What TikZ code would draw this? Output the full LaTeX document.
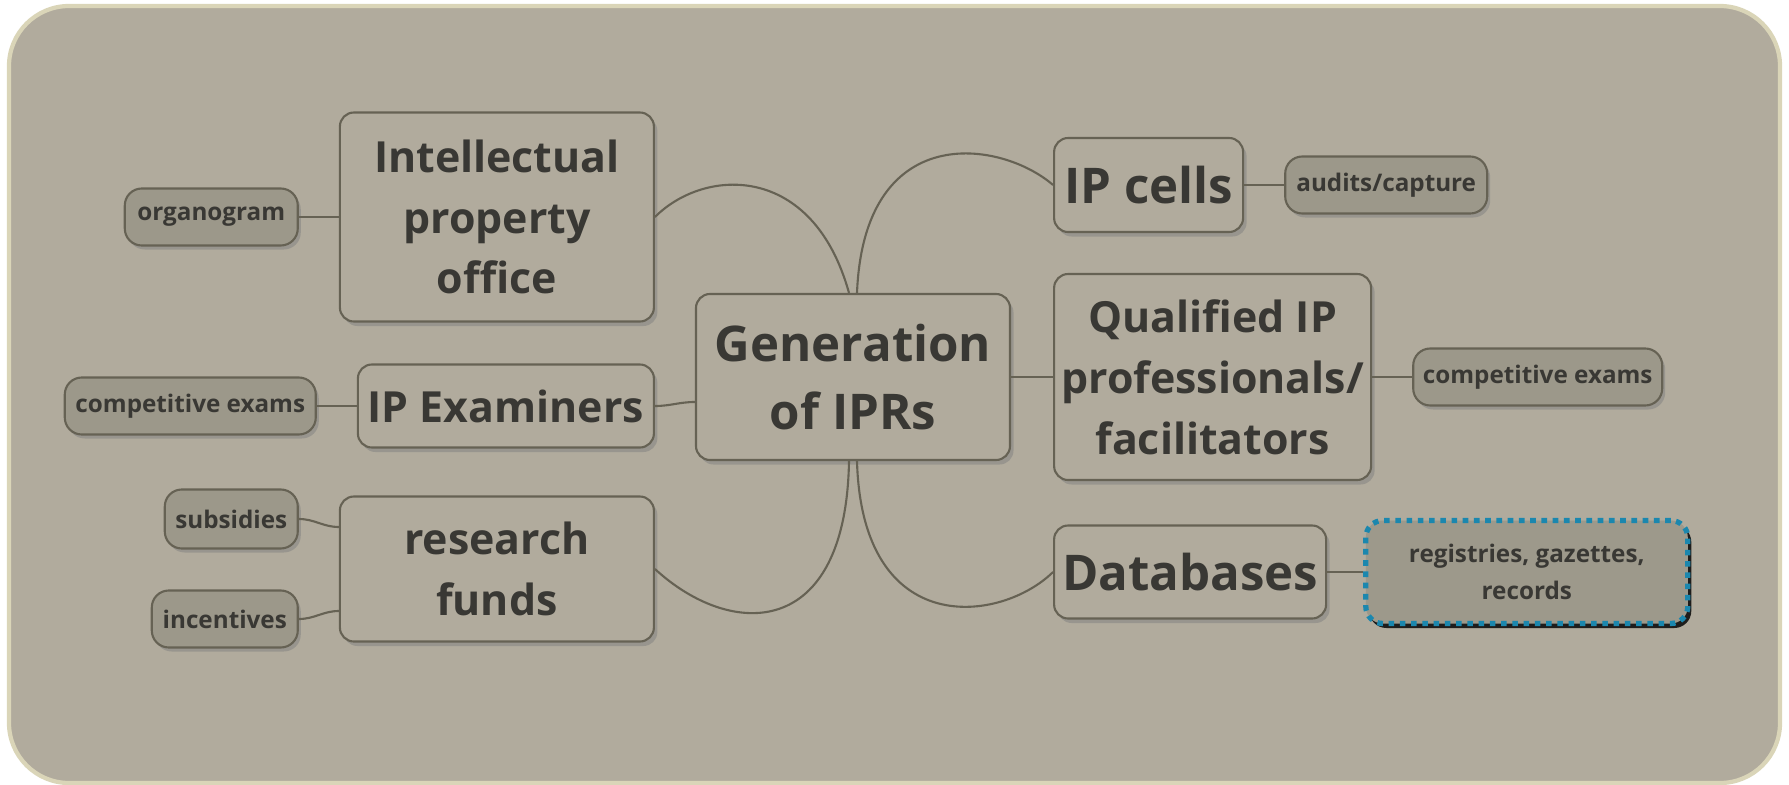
\documentclass[tikz,border=0pt]{standalone}
\usepackage{fontspec}
\setmainfont{Open Sans}
\usetikzlibrary{positioning,shadows}

\definecolor{mapbg}{HTML}{B1AB9D}
\definecolor{mapedge}{HTML}{DAD5B8}
\definecolor{boxline}{HTML}{666254}
\definecolor{leaffill}{HTML}{9C988A}
\definecolor{inktext}{HTML}{393834}
\definecolor{selblue}{HTML}{1B87AE}

\begin{document}
\begin{tikzpicture}[
    topic/.style={rectangle, rounded corners=0.14cm, draw=boxline, line width=0.6pt,
      fill=mapbg, text=inktext, align=center, inner sep=0pt,
      font=\bfseries\fontsize{12.2}{17.3}\selectfont,
      drop shadow={opacity=0.5, shadow xshift=0.035cm, shadow yshift=-0.045cm}},
    topicbig/.style={topic, font=\bfseries\fontsize{14}{19.3}\selectfont},
    leaf/.style={rectangle, rounded corners=0.17cm, draw=boxline, line width=0.6pt,
      fill=leaffill, text=inktext, align=center, inner sep=0pt, minimum height=0.57cm,
      font=\bfseries\fontsize{6.9}{10.4}\selectfont,
      drop shadow={opacity=0.5, shadow xshift=0.03cm, shadow yshift=-0.04cm}},
    selected/.style={draw=selblue, line width=1.5pt, dash pattern=on 1.6pt off 1.6pt,
      fill=leaffill!95!mapbg,
      drop shadow={opacity=0.8, fill=black, shadow xshift=0.035cm, shadow yshift=-0.045cm}},
    branch/.style={draw=boxline, line width=0.6pt}]

  \useasboundingbox (0,0) rectangle (17.89,-7.85);

  % background
  \draw[mapedge, line width=1.2pt, fill=mapbg, rounded corners=0.6cm]
    (0.09,-0.06) rectangle (17.80,-7.83);

  % Define nodes
  \node[topicbig, minimum width=3.14cm, minimum height=1.66cm] (gen) at (8.53,-3.77) {Generation\\of IPRs};

  \node[topic, minimum width=3.14cm, minimum height=2.09cm, left=0.40cm of gen, yshift=1.60cm] (ipo) {Intellectual\\property\\office};
  \node[topic, minimum width=2.96cm, minimum height=0.83cm, left=0.40cm of gen, yshift=-0.29cm] (exam) {IP Examiners};
  \node[topic, minimum width=3.14cm, minimum height=1.45cm, left=0.40cm of gen, yshift=-1.92cm] (funds) {research\\funds};

  \node[topicbig, minimum width=1.89cm, minimum height=0.94cm, right=0.42cm of gen, yshift=1.92cm] (cells) {IP cells};
  \node[topic, minimum width=3.17cm, minimum height=2.06cm, right=0.42cm of gen] (qual) {Qualified IP\\professionals/\\facilitators};
  \node[topicbig, minimum width=2.72cm, minimum height=0.93cm, right=0.42cm of gen, yshift=-1.95cm] (db) {Databases};

  \node[leaf, minimum width=1.73cm, left=0.40cm of ipo] (organogram) {organogram};
  \node[leaf, minimum width=2.51cm, left=0.40cm of exam] (examsL) {competitive exams};
  \node[leaf, minimum width=1.33cm, minimum height=0.59cm, left=0.40cm of funds, yshift=0.50cm] (subsidies) {subsidies};
  \node[leaf, minimum width=1.46cm, left=0.40cm of funds, yshift=-0.50cm] (incentives) {incentives};

  \node[leaf, minimum width=2.02cm, right=0.40cm of cells] (audits) {audits/capture};
  \node[leaf, minimum width=2.49cm, right=0.40cm of qual] (examsR) {competitive exams};
  \node[leaf, selected, minimum width=3.22cm, minimum height=1.03cm, right=0.36cm of db] (records) {registries, gazettes,\\records};

  % branches
  \draw[branch] ([xshift=-0.04cm]gen.north) .. controls +(-0.36,1.3) and +(0.5,0.5) .. (ipo.east);
  \draw[branch] ([yshift=-0.25cm]gen.west) to[out=180, in=0] (exam.east);
  \draw[branch] ([xshift=-0.04cm]gen.south) .. controls +(-0.03,-1.8) and +(0.76,-0.7) .. (funds.east);
  \draw[branch] ([xshift=0.04cm]gen.north) .. controls +(0.07,1.74) and +(-0.52,0.45) .. (cells.west);
  \draw[branch] (gen.east) -- (qual.west);
  \draw[branch] ([xshift=0.04cm]gen.south) .. controls +(0.05,-1.8) and +(-0.52,-0.51) .. (db.west);

  \draw[branch] (ipo.west) -- (organogram.east);
  \draw[branch] (exam.west) -- (examsL.east);
  \draw[branch] (subsidies.east) to[out=0, in=180] ([yshift=0.42cm]funds.west);
  \draw[branch] (incentives.east) to[out=0, in=180] ([yshift=-0.42cm]funds.west);
  \draw[branch] (cells.east) -- (audits.west);
  \draw[branch] (qual.east) -- (examsR.west);
  \draw[branch] (db.east) -- (records.west);

\end{tikzpicture}
\end{document}
